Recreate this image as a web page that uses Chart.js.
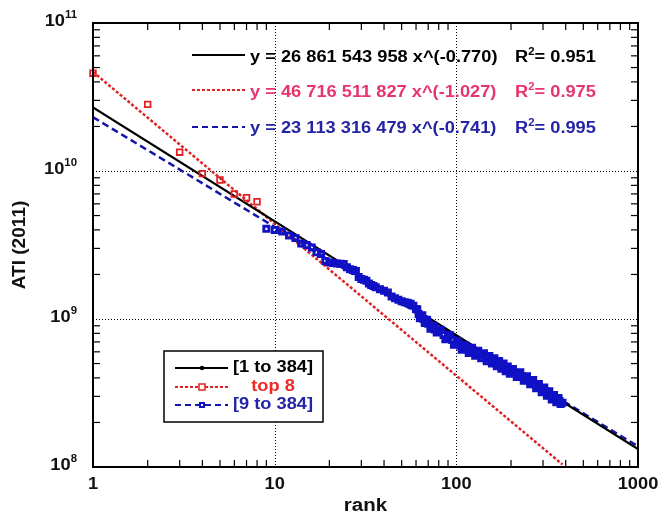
<!DOCTYPE html>
<html>
<head>
<meta charset="utf-8">
<script src="https://cdn.jsdelivr.net/npm/chart.js@4.4.0/dist/chart.umd.min.js"></script>
<style>
html,body{margin:0;padding:0;background:#fff;}
#wrap{width:661px;height:518px;position:relative;}
</style>
</head>
<body>
<div id="wrap"><canvas id="c" width="661" height="518"></canvas></div>
<script>
// ---------- data ----------
const top8Rank = [1,2,3,4,5,6,7,8];
const top8Ati  = [4.58e10, 2.82e10, 1.34e10, 9.6e9, 8.7e9, 7.0e9, 6.6e9, 6.2e9];

const restRank = [9,10,11,12,13,14,15,16,17,18,19,20,21,22,23,24,25,26,27,28,29,30,31,32,33,34,35,36,38,40,42,44,46,48,50,52,54,56,58,60,62,64,66,68,70,73,76,80,85,90,95,100,105,110,115,120,125,130,135,140,145,150,155,160,165,170,175,180,185,190,195,200,210,220,230,240,250,260,270,280,290,300,310,320,330,340,350,360,370,384];
const restAti  = [4.07e9,4.0e9,3.9e9,3.66e9,3.52e9,3.24e9,3.16e9,3.04e9,2.82e9,2.75e9,2.47e9,2.41e9,2.39e9,2.37e9,2.36e9,2.35e9,2.24e9,2.17e9,2.14e9,2.11e9,1.92e9,1.86e9,1.84e9,1.81e9,1.74e9,1.70e9,1.67e9,1.64e9,1.59e9,1.55e9,1.51e9,1.42e9,1.38e9,1.35e9,1.32e9,1.30e9,1.29e9,1.27e9,1.23e9,1.17e9,1.08e9,1.03e9,1.00e9,0.96e9,0.93e9,0.88e9,0.85e9,0.82e9,0.78e9,0.76e9,0.72e9,0.685e9,0.66e9,0.64e9,0.625e9,0.615e9,0.60e9,0.585e9,0.575e9,0.565e9,0.55e9,0.54e9,0.53e9,0.52e9,0.51e9,0.50e9,0.49e9,0.48e9,0.47e9,0.46e9,0.45e9,0.445e9,0.433e9,0.422e9,0.41e9,0.397e9,0.385e9,0.375e9,0.363e9,0.352e9,0.342e9,0.333e9,0.324e9,0.314e9,0.305e9,0.297e9,0.29e9,0.284e9,0.279e9,0.272e9];
// further points of the dense band (upper / lower edge of the cloud)
const bandRank = [61,63,65,67,69,72,75,78,82,87,92,97,102,107,112,117,122,127,132,137,142,147,152,157,162,167,172,177,182,187,192,197,205,215,225,235,245,255,265,275,285,295,305,315,325,335,345,355,365,375];
const bandAti  = [1.16e9,1.01e9,1.06e9,0.94e9,0.99e9,0.86e9,0.90e9,0.81e9,0.845e9,0.73e9,0.78e9,0.67e9,0.71e9,0.62e9,0.665e9,0.59e9,0.64e9,0.565e9,0.61e9,0.542e9,0.588e9,0.518e9,0.562e9,0.50e9,0.542e9,0.48e9,0.52e9,0.462e9,0.50e9,0.443e9,0.478e9,0.426e9,0.46e9,0.406e9,0.437e9,0.383e9,0.41e9,0.362e9,0.387e9,0.34e9,0.364e9,0.32e9,0.344e9,0.303e9,0.325e9,0.286e9,0.307e9,0.274e9,0.293e9,0.266e9];

// fitted lines (end points)
const fitAllRank  = [1, 1000];
const fitAllAti   = [2.69e10, 1.32e8];
const fitTopRank  = [1, 384];
const fitTopAti   = [4.67e10, 1.04e8];
const fitRestRank = [1, 1000];
const fitRestAti  = [2.31e10, 1.38e8];

// axes
const xMajor = [1, 10, 100, 1000];
const xMajorLabels = ['1', '10', '100', '1000'];
const yMajor = [1e8, 1e9, 1e10, 1e11];
const yExponents = ['8', '9', '10', '11'];
const minorMult = [2,3,4,5,6,7,8,9];
const xTitle = 'rank';
const yTitle = 'ATI (2011)';

// legend & equations
const legendLabels = ['[1 to 384]', 'top 8', '[9 to 384]'];
const eqTexts = ['y = 26 861 543 958 x^(-0.770)', 'y = 46 716 511 827 x^(-1.027)', 'y = 23 113 316 479 x^(-0.741)'];
const r2Values = ['0.951', '0.975', '0.995'];

// ---------- styles ----------
const BLACK = '#000000';
const RED = '#e22222';
const RED_TXT = '#e8346c';
const RED_LEG = '#f02828';
const BLUE = '#1010c4';
const BLUE_LINE = '#1414a8';
const BLUE_TXT = '#2424a6';
const FONT = '"Liberation Sans", Arial, sans-serif';
const SX = 1.14;

function pts(xs, ys){ return xs.map((x,i)=>({x:x, y:ys[i]})); }

function txt(ctx, s, x, y, size, color, align, sx){
  sx = sx || SX;
  ctx.save();
  ctx.font = 'bold ' + size + 'px ' + FONT;
  ctx.fillStyle = color;
  ctx.textBaseline = 'middle';
  ctx.textAlign = 'left';
  const w = ctx.measureText(s).width * sx;
  let x0 = x;
  if (align === 'center') x0 = x - w/2;
  else if (align === 'right') x0 = x - w;
  ctx.translate(x0, y);
  ctx.scale(sx, 1);
  ctx.fillText(s, 0, 0);
  ctx.restore();
  return w;
}
function txtW(ctx, s, size, sx){
  ctx.save(); ctx.font = 'bold ' + size + 'px ' + FONT;
  const w = ctx.measureText(s).width * (sx||SX); ctx.restore(); return w;
}

const decor = {
  id: 'decor',
  beforeDatasetsDraw(chart){
    const ctx = chart.ctx, a = chart.chartArea, xs = chart.scales.x, ys = chart.scales.y;
    ctx.save();
    ctx.strokeStyle = '#000';
    ctx.lineWidth = 1;
    ctx.setLineDash([1, 2]);
    xMajor.forEach(v => {
      if (v === xMajor[0] || v === xMajor[xMajor.length-1]) return;
      const px = Math.round(xs.getPixelForValue(v)) + 0.5;
      ctx.beginPath(); ctx.moveTo(px, a.top); ctx.lineTo(px, a.bottom); ctx.stroke();
    });
    yMajor.forEach(v => {
      if (v === yMajor[0] || v === yMajor[yMajor.length-1]) return;
      const py = Math.round(ys.getPixelForValue(v)) + 0.5;
      ctx.beginPath(); ctx.moveTo(a.left, py); ctx.lineTo(a.right, py); ctx.stroke();
    });
    ctx.restore();
  },
  afterDraw(chart){
    const ctx = chart.ctx, a = chart.chartArea, xs = chart.scales.x, ys = chart.scales.y;
    ctx.save();
    // minor ticks, inward on all four sides
    ctx.strokeStyle = '#000';
    ctx.lineWidth = 1.2;
    const TL = 7;
    for (let d = 0; d < xMajor.length - 1; d++){
      minorMult.forEach(m => {
        const px = xs.getPixelForValue(xMajor[d]*m);
        ctx.beginPath(); ctx.moveTo(px, a.bottom); ctx.lineTo(px, a.bottom - TL); ctx.stroke();
        ctx.beginPath(); ctx.moveTo(px, a.top); ctx.lineTo(px, a.top + TL); ctx.stroke();
      });
    }
    for (let d = 0; d < yMajor.length - 1; d++){
      minorMult.forEach(m => {
        const py = ys.getPixelForValue(yMajor[d]*m);
        ctx.beginPath(); ctx.moveTo(a.left, py); ctx.lineTo(a.left + TL, py); ctx.stroke();
        ctx.beginPath(); ctx.moveTo(a.right, py); ctx.lineTo(a.right - TL, py); ctx.stroke();
      });
    }
    // frame
    ctx.lineWidth = 2;
    ctx.strokeRect(a.left, a.top, a.right - a.left, a.bottom - a.top);

    // x tick labels
    xMajor.forEach((v,i) => {
      txt(ctx, xMajorLabels[i], xs.getPixelForValue(v), a.bottom + 18, 16, '#111', 'center');
    });
    // y tick labels 10^n
    yMajor.forEach((v,i) => {
      const py = ys.getPixelForValue(v) - 1.5;
      const wSup = txtW(ctx, yExponents[i], 10);
      const right = a.left - 16;
      txt(ctx, yExponents[i], right - wSup, py - 6, 10, '#111', 'left');
      txt(ctx, '10', right - wSup, py, 16, '#111', 'right');
    });
    // axis titles
    txt(ctx, xTitle, (a.left + a.right)/2, a.bottom + 39, 18, '#111', 'center');
    ctx.save();
    ctx.translate(20, (a.top + a.bottom)/2);
    ctx.rotate(-Math.PI/2);
    txt(ctx, yTitle, 0, 0, 18, '#111', 'center', 1.06);
    ctx.restore();

    // equations block
    const eqY = [58, 93, 129];
    const eqColors = [BLACK, RED_TXT, BLUE_TXT];
    const sampleX0 = 192, sampleX1 = 245;
    ctx.lineWidth = 2.2;
    ctx.strokeStyle = BLACK; ctx.setLineDash([]);
    ctx.beginPath(); ctx.moveTo(sampleX0, eqY[0]-3); ctx.lineTo(sampleX1, eqY[0]-3); ctx.stroke();
    ctx.strokeStyle = RED; ctx.setLineDash([3,2]);
    ctx.beginPath(); ctx.moveTo(sampleX0, eqY[1]-3); ctx.lineTo(sampleX1, eqY[1]-3); ctx.stroke();
    ctx.strokeStyle = BLUE_LINE; ctx.setLineDash([6,4]);
    ctx.beginPath(); ctx.moveTo(sampleX0, eqY[2]-2); ctx.lineTo(sampleX1, eqY[2]-2); ctx.stroke();
    ctx.setLineDash([]);
    eqTexts.forEach((s,i) => {
      txt(ctx, s, 250, eqY[i], 16, eqColors[i], 'left');
      let x = 515;
      x += txt(ctx, 'R', x, eqY[i], 16, eqColors[i], 'left');
      x += txt(ctx, '2', x, eqY[i]-6, 10, eqColors[i], 'left');
      txt(ctx, '= ' + r2Values[i], x, eqY[i], 16, eqColors[i], 'left');
    });

    // legend box
    const lx0 = 164, ly0 = 351, lx1 = 323, ly1 = 422;
    ctx.fillStyle = '#fff';
    ctx.fillRect(lx0, ly0, lx1-lx0, ly1-ly0);
    ctx.strokeStyle = '#000'; ctx.lineWidth = 1.5;
    ctx.strokeRect(lx0, ly0, lx1-lx0, ly1-ly0);
    const lgY = [368, 387, 405];
    const lgColors = [BLACK, RED_LEG, BLUE_TXT];
    const sx0 = 175, sx1 = 228, mx = 202;
    ctx.lineWidth = 2;
    ctx.strokeStyle = BLACK; ctx.setLineDash([]);
    ctx.beginPath(); ctx.moveTo(sx0, lgY[0]); ctx.lineTo(sx1, lgY[0]); ctx.stroke();
    ctx.fillStyle = BLACK; ctx.beginPath(); ctx.arc(mx, lgY[0], 2.2, 0, Math.PI*2); ctx.fill();
    ctx.strokeStyle = RED; ctx.setLineDash([3,2]);
    ctx.beginPath(); ctx.moveTo(sx0, lgY[1]); ctx.lineTo(sx1, lgY[1]); ctx.stroke();
    ctx.setLineDash([]); ctx.fillStyle = '#fff'; ctx.lineWidth = 1.5;
    ctx.fillRect(mx-3, lgY[1]-3, 6, 6); ctx.strokeRect(mx-3, lgY[1]-3, 6, 6);
    ctx.lineWidth = 2; ctx.strokeStyle = BLUE_LINE; ctx.setLineDash([6,4]);
    ctx.beginPath(); ctx.moveTo(sx0, lgY[2]); ctx.lineTo(sx1, lgY[2]); ctx.stroke();
    ctx.setLineDash([]); ctx.fillStyle = BLUE; ctx.fillRect(mx-3, lgY[2]-3, 6, 6);
    ctx.fillStyle = '#fff'; ctx.fillRect(mx-1, lgY[2]-1, 2, 2);
    legendLabels.forEach((s,i) => txt(ctx, s, 273, lgY[i], 16, lgColors[i], 'center'));
    ctx.restore();
  }
};

new Chart(document.getElementById('c'), {
  type: 'scatter',
  data: {
    datasets: [
      { label: legendLabels[2], data: pts(restRank, restAti).concat(pts(bandRank, bandAti)), showLine: false,
        pointStyle: 'rect', pointRadius: 3.6, borderWidth: 2.9, borderColor: BLUE,
        backgroundColor: 'rgba(0,0,0,0)', order: 1 },
      { label: legendLabels[1], data: pts(top8Rank, top8Ati), showLine: false,
        pointStyle: 'rect', pointRadius: 4, borderWidth: 1.8, borderColor: RED,
        backgroundColor: 'rgba(0,0,0,0)', order: 0, clip: 8 },
      { label: legendLabels[0], data: pts(fitAllRank, fitAllAti), showLine: true,
        pointRadius: 0, borderWidth: 2.2, borderColor: BLACK, order: 2 },
      { label: 'fit top 8', data: pts(fitTopRank, fitTopAti), showLine: true,
        pointRadius: 0, borderWidth: 2.5, borderColor: RED, borderDash: [3,2], order: 3 },
      { label: 'fit 9-384', data: pts(fitRestRank, fitRestAti), showLine: true,
        pointRadius: 0, borderWidth: 2.5, borderColor: BLUE_LINE, borderDash: [7,4], order: 4 }
    ]
  },
  options: {
    responsive: false,
    devicePixelRatio: 1,
    animation: false,
    layout: { padding: { left: 93, top: 23, right: 23, bottom: 51 } },
    plugins: { legend: { display: false }, tooltip: { enabled: false } },
    scales: {
      x: { type: 'logarithmic', min: 1, max: 1000, display: false },
      y: { type: 'logarithmic', min: 1e8, max: 1e11, display: false }
    }
  },
  plugins: [decor]
});
</script>
</body>
</html>
